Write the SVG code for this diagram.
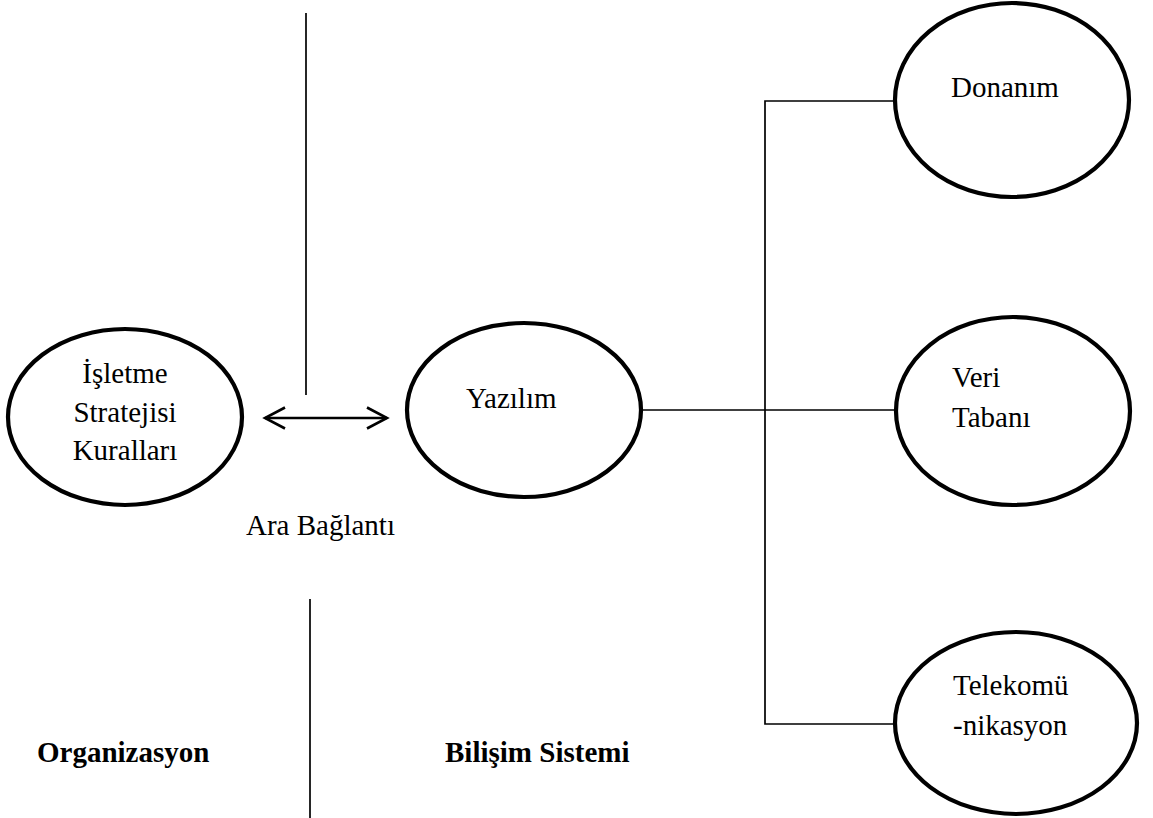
<svg xmlns="http://www.w3.org/2000/svg" width="1153" height="818" viewBox="0 0 1153 818">
  <style>
    .node { fill: #ffffff; stroke: #000000; stroke-width: 4.2; }
    .lbl { font-family: "Liberation Serif", "Times New Roman", serif; font-size: 29px; fill: #000000; }
    .head { font-family: "Liberation Serif", "Times New Roman", serif; font-size: 29px; font-weight: bold; fill: #000000; }
    .wire { fill: none; stroke: #000000; stroke-width: 1.7; }
    .link { fill: none; stroke: #000000; stroke-width: 2.4; }
  </style>
  <defs>
    <marker id="chevron" viewBox="0 0 24 24" markerWidth="24" markerHeight="24" refX="21" refY="12" orient="auto-start-reverse" markerUnits="userSpaceOnUse">
      <path d="M1 1.5 L21 12 L1 22.5" fill="none" stroke="#000000" stroke-width="2.6"/>
    </marker>
  </defs>
  <rect width="1153" height="818" fill="#ffffff"/>

  <!-- dividing lines between organisation and information system -->
  <g id="dividers" class="wire">
    <line x1="306" y1="13" x2="306" y2="395"/>
    <line x1="310" y1="599" x2="310" y2="818"/>
  </g>

  <!-- connectors -->
  <g id="connectors">
    <line class="link" x1="265" y1="418" x2="387" y2="418" marker-start="url(#chevron)" marker-end="url(#chevron)"/>
    <line class="wire" x1="641" y1="410" x2="896" y2="410"/>
    <polyline class="wire" points="895,101 765,101 765,724 896,724"/>
  </g>

  <g id="node-isletme">
    <ellipse class="node" cx="125" cy="417" rx="117" ry="88"/>
    <text class="lbl" x="125" y="383" text-anchor="middle">İşletme</text>
    <text class="lbl" x="125" y="422" text-anchor="middle">Stratejisi</text>
    <text class="lbl" x="125" y="460" text-anchor="middle">Kuralları</text>
  </g>

  <g id="node-yazilim">
    <ellipse class="node" cx="524" cy="410" rx="117" ry="87"/>
    <text class="lbl" x="466" y="408">Yazılım</text>
  </g>

  <g id="node-donanim">
    <ellipse class="node" cx="1012" cy="100" rx="117" ry="97"/>
    <text class="lbl" x="951" y="97">Donanım</text>
  </g>

  <g id="node-veritabani">
    <ellipse class="node" cx="1013" cy="411" rx="117" ry="94"/>
    <text class="lbl" x="952" y="387">Veri</text>
    <text class="lbl" x="952" y="427">Tabanı</text>
  </g>

  <g id="node-telekom">
    <ellipse class="node" cx="1016" cy="723" rx="121" ry="91"/>
    <text class="lbl" x="953" y="695">Telekomü</text>
    <text class="lbl" x="953" y="735">-nikasyon</text>
  </g>

  <g id="labels">
    <text class="lbl" x="246" y="535">Ara Bağlantı</text>
    <text class="head" x="37" y="762">Organizasyon</text>
    <text class="head" x="445" y="762">Bilişim Sistemi</text>
  </g>
</svg>
